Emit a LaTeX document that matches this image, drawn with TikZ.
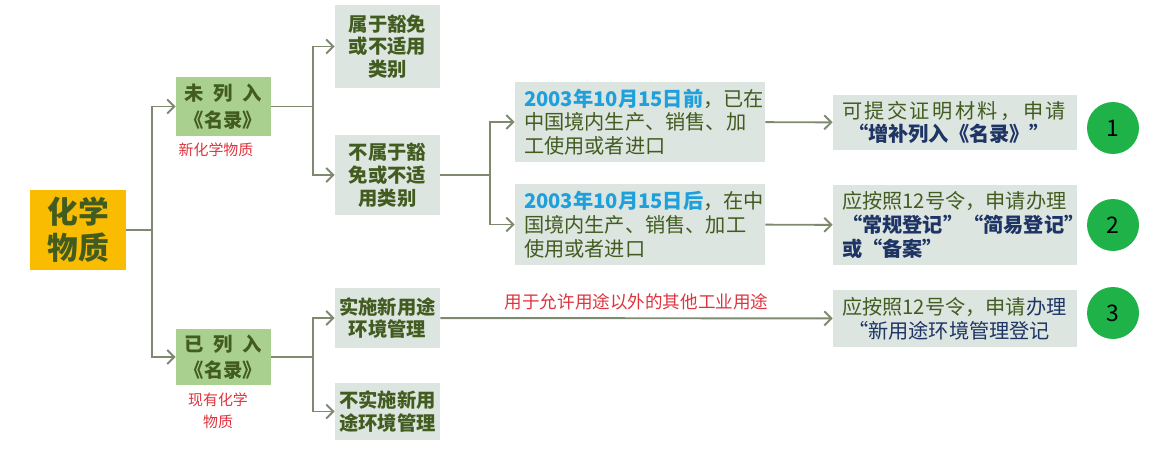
\documentclass[tikz,border=0pt]{standalone}
\usepackage{fontspec}
\setmainfont{Noto Sans CJK SC}
\usetikzlibrary{arrows.meta}
\definecolor{linec}{RGB}{125,138,112}
\definecolor{orangec}{RGB}{250,188,0}
\definecolor{lgreen}{RGB}{169,208,142}
\definecolor{grayc}{RGB}{220,229,224}
\definecolor{dgreen}{RGB}{66,92,32}
\definecolor{dateblue}{RGB}{30,160,220}
\definecolor{dblue}{RGB}{30,52,100}
\definecolor{redc}{RGB}{222,52,62}
\definecolor{circc}{RGB}{30,178,72}

\begin{document}
\begin{tikzpicture}[x=0.02cm,y=-0.02cm,>={Straight Barb[length=4pt,width=8pt]},
    line/.style={draw=linec,line width=1.1pt},
    midbox/.style={fill=grayc,text=dgreen,font=\fontsize{11}{13}\selectfont\bfseries,align=center,minimum width=2.1cm,inner sep=0pt},
    catbox/.style={fill=lgreen,text=dgreen,font=\fontsize{11}{15}\selectfont\bfseries,align=center,minimum width=1.9cm,inner sep=0pt},
    notebox/.style={fill=grayc,text=dgreen,font=\fontsize{11.5}{13.5}\selectfont,align=left,inner ysep=0pt,inner xsep=0.18cm},
    redtext/.style={text=redc,font=\fontsize{8.5}{12.5}\selectfont,align=center}]
    \useasboundingbox (0,0) rectangle (1152,450);

    \node[fill=orangec,text=dgreen,font=\fontsize{17.5}{20.5}\selectfont\bfseries,align=center,
      minimum width=1.92cm,minimum height=1.62cm] (chem) at (78,230) {化学\\物质};

    \node[catbox,minimum height=1.18cm] (unlisted) at (223.5,106.5) {未\enspace 列\enspace 入\\《名录》};
    \node[catbox,minimum height=1.12cm] (listed) at (223.5,357) {已\enspace 列\enspace 入\\《名录》};
    \node[redtext] (newchem) at (216,150) {新化学物质};
    \node[redtext] (oldchem) at (218,411) {现有化学\\物质};

    \node[midbox,minimum height=1.66cm] (exempt) at (387.5,46.5) {属于豁免\\或不适用\\类别};
    \node[midbox,minimum height=1.6cm] (nonexempt) at (387.5,175) {不属于豁\\免或不适\\用类别};
    \node[midbox,minimum height=1.2cm] (newuse) at (387.5,318) {实施新用途\\环境管理};
    \node[midbox,minimum height=1.14cm] (nonewuse) at (387.5,411.5) {不实施新用\\途环境管理};

    \node[notebox,text width=4.64cm,minimum height=1.6cm] (before) at (640,122)
      {{\color{dateblue}\bfseries 2003年10月15日前}，已在\\中国境内生产、销售、加\\工使用或者进口};
    \node[notebox,text width=4.64cm,minimum height=1.62cm] (after) at (640,224.5)
      {{\color{dateblue}\bfseries 2003年10月15日后}，在中\\国境内生产、销售、加工\\使用或者进口};

    \node[notebox,text width=4.52cm,minimum height=1.1cm] (supp) at (955,122.5)
      {{\addfontfeature{LetterSpace=12}可提交证明材料，申请}\\\hspace*{0.3em}{\color{dblue}\bfseries “增补列入《名录》”}};
    \node[notebox,text width=4.52cm,minimum height=1.6cm] (regist) at (955,225)
      {应按照12号令，申请办理\\{\color{dblue}\bfseries “常规登记”“简易登记”}\\{\color{dblue}\bfseries 或“备案”}};
    \node[notebox,text width=4.52cm,minimum height=1.14cm] (newreg) at (955,318.5)
      {应按照12号令，申请{\color{dblue}办理}\\\hspace*{0.3em}{\color{dblue}“新用途环境管理登记}};

    \foreach \n/\y in {1/128,2/225,3/313}
        \node[circle,fill=circc,minimum size=1.04cm,inner sep=0pt,font=\fontsize{13}{13}\selectfont] (c\n) at (1113,\y) {\n};

    \coordinate (j0) at (152,230);
    \coordinate (j1) at (313,106.5);
    \coordinate (j2) at (490,175);
    \coordinate (j3) at (313,357);

    \draw[line] (chem) -- (j0);
    \draw[line,->] (j0) |- (unlisted);
    \draw[line,->] (j0) |- (listed);
    \draw[line] (unlisted) -- (j1);
    \draw[line,->] (j1) |- (exempt);
    \draw[line,->] (j1) |- (nonexempt);
    \draw[line] (nonexempt) -- (j2);
    \draw[line,->] (j2) |- (before);
    \draw[line,->] (j2) |- (after);
    \draw[line] (listed) -- (j3);
    \draw[line,->] (j3) |- (newuse);
    \draw[line,->] (j3) |- (nonewuse);
    \draw[line,->] (before) -- (supp);
    \draw[line,->] (after) -- (regist);
    \draw[line,->] (newuse) -- node[above=1pt,text=redc,font=\fontsize{10}{12}\selectfont] {用于允许用途以外的其他工业用途} (newreg);
\end{tikzpicture}
\end{document}
